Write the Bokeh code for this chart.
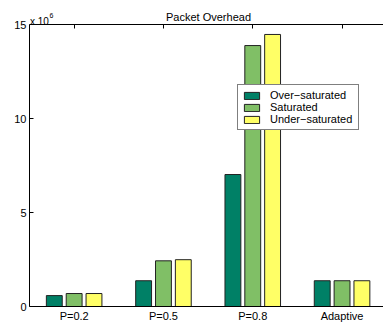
import numpy as np
from bokeh.plotting import figure
from bokeh.models import (ColumnDataSource, Range1d, FixedTicker, LinearAxis,
                          Label, Legend, LegendItem)
from bokeh.transform import dodge
from bokeh.embed import file_html
from bokeh.resources import INLINE

# ---- data (values in units of 10^6) ----
categories = ["P=0.2", "P=0.5", "P=0.8", "Adaptive"]
over_saturated = [0.58, 1.37, 7.02, 1.37]
saturated = [0.69, 2.43, 13.88, 1.37]
under_saturated = [0.69, 2.49, 14.47, 1.37]
series_names = ["Over\u2212saturated", "Saturated", "Under\u2212saturated"]
series_colors = ["#008066", "#80BF66", "#FFFF66"]
y_ticks = [0, 5, 10, 15]
title_text = "Packet Overhead"

FONT = "Liberation Sans"

xpos = list(range(1, len(categories) + 1))
source = ColumnDataSource(data=dict(x=xpos, over=over_saturated,
                                    sat=saturated, under=under_saturated))

# frame spans from the canvas top down to the x axis; the axes box ends at 15
y_max = y_ticks[-1]
y_end = y_max * 306.0 / 282.0

p = figure(width=383, height=325, output_backend="svg", toolbar_location=None,
           x_range=Range1d(0.5, 4.464), y_range=Range1d(0, y_end),
           min_border_left=29, min_border_right=0, min_border_top=0,
           min_border_bottom=19)
p.outline_line_color = None
p.xgrid.visible = False
p.ygrid.visible = False
p.background_fill_color = "white"
p.border_fill_color = "white"

offs = [-0.2222, 0.0, 0.2222]
cols = ["over", "sat", "under"]
renderers = []
for off, col, color in zip(offs, cols, series_colors):
    r = p.vbar(x=dodge("x", off), top=col, width=0.1778, source=source,
               fill_color=color, line_color="#222222", line_width=1)
    renderers.append(r)

# axes styling
xa = p.xaxis[0]
xa.ticker = FixedTicker(ticks=xpos)
xa.major_label_overrides = {i: c for i, c in zip(xpos, categories)}
xa.major_tick_in = 0
xa.major_tick_out = 0
xa.minor_tick_line_color = None
xa.major_label_standoff = 3
xa.axis_line_color = "black"
xa.axis_line_width = 1
xa.major_label_text_font = FONT
xa.major_label_text_font_size = "11px"
xa.major_label_text_color = "black"

ya = p.yaxis[0]
ya.ticker = FixedTicker(ticks=y_ticks)
ya.bounds = (0, y_max)
ya.major_tick_in = 4
ya.major_tick_out = 0
ya.minor_tick_line_color = None
ya.major_label_standoff = 3
ya.axis_line_color = "black"
ya.axis_line_width = 1
ya.major_tick_line_color = "black"
ya.major_label_text_font = FONT
ya.major_label_text_font_size = "11px"
ya.major_label_text_color = "black"

# top edge of the axes box, with inward ticks at the categories
top = LinearAxis(fixed_location=y_max,
                 ticker=FixedTicker(ticks=[], minor_ticks=xpos))
top.major_tick_line_color = None
top.minor_tick_in = 4
top.minor_tick_out = 0
top.minor_tick_line_color = "black"
top.axis_line_color = "black"
top.axis_line_width = 1
p.add_layout(top, "above")

# title and exponent labels (screen units relative to frame bottom-left)
p.add_layout(Label(x=179, y=290, x_units="screen", y_units="screen",
                   text=title_text, text_align="center",
                   text_baseline="alphabetic", text_font=FONT,
                   text_font_size="11px", text_color="black"))
p.add_layout(Label(x=0.5, y=285.5, x_units="screen", y_units="screen",
                   text="x 10", text_align="left",
                   text_baseline="alphabetic", text_font=FONT,
                   text_font_size="10px", text_color="black"))
p.add_layout(Label(x=20, y=291, x_units="screen", y_units="screen",
                   text="6", text_align="left",
                   text_baseline="alphabetic", text_font=FONT,
                   text_font_size="7px", text_color="black"))

legend = Legend(items=[LegendItem(label=n, renderers=[r])
                       for n, r in zip(series_names, renderers)],
                location=(208, 176), margin=0, padding=4, spacing=0,
                glyph_width=19, glyph_height=9, label_height=11,
                label_width=84, label_standoff=9, label_text_font=FONT,
                label_text_font_size="11px", label_text_color="black",
                border_line_color="black", border_line_width=1,
                background_fill_color="white", background_fill_alpha=1)
p.add_layout(legend, "center")

open("out.html", "w").write(file_html(p, INLINE))
